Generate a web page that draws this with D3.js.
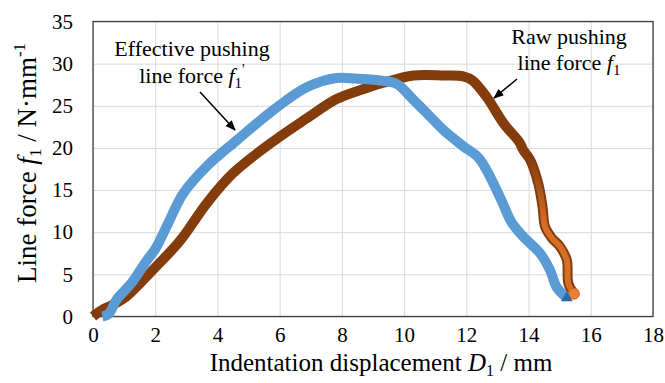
<!DOCTYPE html>
<html>
<head>
<meta charset="utf-8">
<script src="https://cdn.jsdelivr.net/npm/d3@7"></script>
<style>
  body { margin: 0; background: #fff; }
  text { font-family: "Liberation Serif", "Times New Roman", serif; fill: #000; }
</style>
</head>
<body>
<div id="chart"></div>
<script>
// Raw pushing line force f1 (orange circles)
var rawX = [0, 0.3, 0.65, 1.08, 1.5, 2.05, 2.8, 3.65, 4.5, 5.8, 6.87, 7.83, 8.7, 9.3, 10.3, 11.3, 11.9, 12.2, 12.66, 13.2, 13.7, 13.83, 14.05, 14.31, 14.45, 14.53, 14.75, 15.01, 15.23, 15.28, 15.46];
var rawY = [0, 0.8, 1.4, 2.4, 3.9, 6.0, 9.0, 13.4, 17.0, 20.8, 23.5, 25.8, 27.0, 27.7, 28.6, 28.6, 28.5, 28.0, 26.0, 22.9, 20.7, 19.75, 18.6, 15.8, 13.0, 10.65, 9.3, 8.3, 6.7, 3.9, 2.7];
// Effective pushing line force f1' (blue triangles)
var effX = [0.3, 0.5, 0.76, 1.24, 1.72, 2.0, 2.37, 2.9, 3.65, 4.62, 5.8, 6.87, 7.83, 8.5, 9.23, 9.76, 10.3, 10.84, 11.3, 11.9, 12.4, 12.76, 13.15, 13.45, 13.83, 14.37, 14.69, 14.9, 15.23];
var effY = [0, 0.3, 2.0, 4.0, 6.6, 8.0, 10.7, 14.6, 17.8, 20.9, 24.5, 27.2, 28.3, 28.2, 28.0, 27.6, 25.7, 23.7, 22.0, 20.2, 18.8, 16.6, 13.6, 11.2, 9.47, 7.5, 5.5, 3.5, 2.2];

var xTicks = [0, 2, 4, 6, 8, 10, 12, 14, 16, 18];
var yTicks = [0, 5, 10, 15, 20, 25, 30, 35];

var W = 665, H = 383;
var box = {left: 93, top: 21.5, right: 653, bottom: 316.5};
var serif = '"Liberation Serif", "Times New Roman", serif';

var svg = d3.select('#chart').append('svg').attr('width', W).attr('height', H);

var x = d3.scaleLinear().domain([0, 18]).range([box.left, box.right]);
var y = d3.scaleLinear().domain([0, 35]).range([box.bottom, box.top]);

// x axis + vertical grid
var gx = svg.append('g')
    .attr('transform', 'translate(0,' + box.bottom + ')')
    .call(d3.axisBottom(x).tickValues(xTicks).tickSize(-(box.bottom - box.top)).tickPadding(11));
// y axis + horizontal grid
var gy = svg.append('g')
    .attr('transform', 'translate(' + box.left + ',0)')
    .call(d3.axisLeft(y).tickValues(yTicks).tickSize(-(box.right - box.left)).tickPadding(20));

[gx, gy].forEach(function (g) {
    g.attr('font-family', serif).attr('font-size', 21);
    g.select('.domain').remove();
    g.selectAll('line').attr('stroke', '#d9d9d9').attr('stroke-width', 1);
    g.selectAll('text').style('font-size', '21px').style('font-family', serif).attr('fill', '#000');
});

// plot frame
svg.append('rect').attr('x', box.left).attr('y', box.top)
    .attr('width', box.right - box.left).attr('height', box.bottom - box.top)
    .attr('fill', 'none').attr('stroke', '#404040').attr('stroke-width', 1.3);

var line = d3.line().curve(d3.curveCatmullRom.alpha(0.5));

var rawPts = rawX.map(function (d, i) { return [x(d), y(rawY[i])]; });
var effPts = effX.map(function (d, i) { return [x(d), y(effY[i])]; });

var defs = svg.append('defs');
// orange shows through lower down where the markers thin out
var grad = defs.append('linearGradient').attr('id', 'tailFade')
    .attr('gradientUnits', 'userSpaceOnUse')
    .attr('x1', 0).attr('x2', 0).attr('y1', y(19)).attr('y2', y(11));
grad.append('stop').attr('offset', 0).attr('stop-color', '#e3762c').attr('stop-opacity', 0);
grad.append('stop').attr('offset', 1).attr('stop-color', '#e3762c').attr('stop-opacity', 0.85);

// raw curve
svg.append('path').attr('d', line(rawPts)).attr('fill', 'none')
    .attr('stroke', '#843c0c').attr('stroke-width', 10).attr('stroke-linejoin', 'round');
var rawTail = rawPts.filter(function (p, i) { return rawX[i] >= 13.7; });
svg.append('path').attr('d', line(rawTail)).attr('fill', 'none')
    .attr('stroke', 'url(#tailFade)').attr('stroke-width', 6).attr('stroke-linecap', 'round');
var rawEnd = rawPts[rawPts.length - 1];
svg.append('circle').attr('cx', rawEnd[0]).attr('cy', rawEnd[1]).attr('r', 5.5)
    .attr('fill', '#ed7d31').attr('stroke', '#c0601f').attr('stroke-width', 0.8);

// effective curve
svg.append('path').attr('d', line(effPts)).attr('fill', 'none')
    .attr('stroke', '#5b9bd5').attr('stroke-width', 10).attr('stroke-linejoin', 'round');
var effEnd = effPts[effPts.length - 1];
svg.append('path').attr('d', d3.symbol(d3.symbolTriangle).size(60))
    .attr('transform', 'translate(' + effEnd[0] + ',' + effEnd[1] + ')')
    .attr('fill', '#2f6aa3');

// arrows
defs.append('marker').attr('id', 'arr').attr('viewBox', '0 0 10 10')
    .attr('refX', 9).attr('refY', 5).attr('markerWidth', 7).attr('markerHeight', 7)
    .attr('orient', 'auto')
    .append('path').attr('d', 'M0,1 L10,5 L0,9 z').attr('fill', '#000');

svg.append('line').attr('x1', 200).attr('y1', 92).attr('x2', 235).attr('y2', 130)
    .attr('stroke', '#000').attr('stroke-width', 1.5).attr('marker-end', 'url(#arr)');
svg.append('line').attr('x1', 517).attr('y1', 79).attr('x2', 494).attr('y2', 98)
    .attr('stroke', '#000').attr('stroke-width', 1.5).attr('marker-end', 'url(#arr)');

// annotations
svg.append('text').attr('x', 192).attr('y', 56).attr('text-anchor', 'middle')
    .style('font-size', '22px').text('Effective pushing');
var t1 = svg.append('text').attr('x', 192).attr('y', 83).attr('text-anchor', 'middle').style('font-size', '22px');
t1.append('tspan').text('line force ');
t1.append('tspan').style('font-style', 'italic').text('f');
t1.append('tspan').attr('dy', 5).style('font-size', '15px').text('1');
t1.append('tspan').attr('dy', -14).style('font-size', '15px').text('\'');

svg.append('text').attr('x', 569).attr('y', 44).attr('text-anchor', 'middle')
    .style('font-size', '22px').text('Raw pushing');
var t2 = svg.append('text').attr('x', 569).attr('y', 70).attr('text-anchor', 'middle').style('font-size', '22px');
t2.append('tspan').text('line force ');
t2.append('tspan').style('font-style', 'italic').text('f');
t2.append('tspan').attr('dy', 5).style('font-size', '15px').text('1');

// axis titles
var xl = svg.append('text').attr('x', 381).attr('y', 371).attr('text-anchor', 'middle').style('font-size', '25px');
xl.append('tspan').text('Indentation displacement ');
xl.append('tspan').style('font-style', 'italic').text('D');
xl.append('tspan').attr('dy', 5).style('font-size', '16px').text('1');
xl.append('tspan').attr('dy', -5).text(' / mm');

var yl = svg.append('text').attr('transform', 'translate(36,163) rotate(-90)')
    .attr('text-anchor', 'middle').style('font-size', '27px');
yl.append('tspan').text('Line force ');
yl.append('tspan').style('font-style', 'italic').text('f');
yl.append('tspan').attr('dy', 5).style('font-size', '17px').text('1');
yl.append('tspan').attr('dy', -5).text(' / N·mm');
yl.append('tspan').attr('dy', -11).style('font-size', '17px').text('-1');
</script>
</body>
</html>
